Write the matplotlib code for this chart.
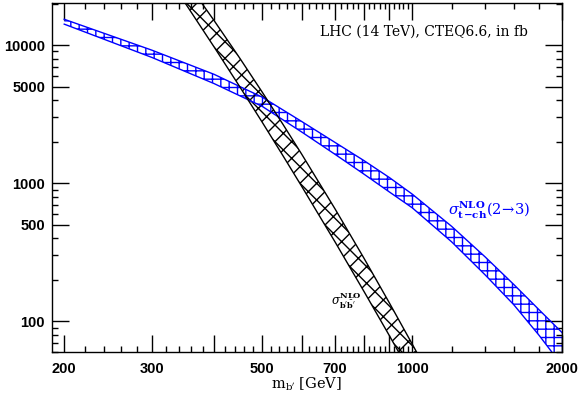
import matplotlib
matplotlib.use("Agg")
import matplotlib.pyplot as plt
from matplotlib.ticker import FixedLocator, FixedFormatter, NullFormatter

# ---- data ----
pair_mass = [300, 350, 400, 450, 500, 550, 600, 700, 800, 900, 1000, 1050]
pair_lower = [45800, 20160, 9710, 5030, 2760, 1585, 949, 376, 165, 78.8, 40.1, 29.3]
pair_upper = [63000, 29750, 15080, 8100, 4560, 2674, 1623, 652, 287, 136, 68.6, 49.7]

tch_mass = [200, 300, 400, 500, 600, 700, 800, 900, 1000, 1200, 1400, 1600, 1800, 2000]
tch_lower = [14200, 8150, 5270, 3600, 2350, 1620, 1165, 865, 665, 377, 218, 132, 79, 48]
tch_upper = [15400, 9200, 6150, 4200, 2800, 1975, 1460, 1100, 835, 488, 294, 185, 121, 83]

x_major = [200, 300, 400, 500, 600, 700, 800, 900, 1000, 2000]
x_major_labels = ["200", "300", "", "500", "", "700", "", "", "1000", "2000"]
x_minor = [m for m in range(200, 1000, 20) if m % 100 != 0] + [1200, 1400, 1600, 1800]
y_major = [100, 500, 1000, 5000, 10000]
y_major_labels = ["100", "500", "1000", "5000", "10000"]
y_minor = [60, 70, 80, 90, 200, 300, 400, 600, 700, 800, 900,
           2000, 3000, 4000, 6000, 7000, 8000, 9000, 20000]

title_text = "LHC (14 TeV), CTEQ6.6, in fb"
tch_label = r"$\sigma^{\mathbf{NLO}}_{\mathbf{t\!-\!ch}}(2\!\rightarrow\!3)$"
pair_label = r"$\sigma^{\mathbf{NLO}}_{\mathbf{b'\bar{b}'}}$"
x_label = r"m$_{\mathrm{b'}}$ [GeV]"

# ---- style ----
plt.rcParams["mathtext.fontset"] = "dejavuserif"
plt.rcParams["hatch.linewidth"] = 1.0
BLUE = "#0000ff"

fig = plt.figure(figsize=(5.81, 4.01), dpi=100)
ax = fig.add_axes([52 / 581, 1 - 352 / 401, (562 - 52) / 581, (352 - 3) / 401])
ax.set_xscale("log")
ax.set_yscale("log")
ax.set_xlim(189, 2000)
ax.set_ylim(60, 20200)

# t-channel band (blue)
ax.fill_between(tch_mass, tch_lower, tch_upper, facecolor="none",
                edgecolor=BLUE, hatch="++", linewidth=0)
ax.plot(tch_mass, tch_lower, color=BLUE, lw=1.0)
ax.plot(tch_mass, tch_upper, color=BLUE, lw=1.0)

# pair band (black)
ax.fill_between(pair_mass, pair_lower, pair_upper, facecolor="none",
                edgecolor="black", hatch="xx", linewidth=0)
ax.plot(pair_mass, pair_lower, color="black", lw=1.0)
ax.plot(pair_mass, pair_upper, color="black", lw=1.0)

# ticks
ax.xaxis.set_major_locator(FixedLocator(x_major))
ax.xaxis.set_major_formatter(FixedFormatter(x_major_labels))
ax.xaxis.set_minor_locator(FixedLocator(x_minor))
ax.xaxis.set_minor_formatter(NullFormatter())
ax.yaxis.set_major_locator(FixedLocator(y_major))
ax.yaxis.set_major_formatter(FixedFormatter(y_major_labels))
ax.yaxis.set_minor_locator(FixedLocator(y_minor))
ax.yaxis.set_minor_formatter(NullFormatter())

ax.tick_params(which="both", direction="in", top=True, right=True, width=1.0)
ax.tick_params(which="major", length=12)
ax.tick_params(which="minor", length=4.5)
ax.tick_params(axis="x", which="major", pad=7)
ax.tick_params(axis="y", which="major", pad=5)
for lab in ax.get_xticklabels() + ax.get_yticklabels():
    lab.set_fontfamily("Liberation Sans")
    lab.set_fontweight("bold")
    lab.set_fontsize(10.5)
for sp in ax.spines.values():
    sp.set_linewidth(1.0)

ax.set_xlabel(x_label, fontfamily="DejaVu Serif", fontsize=10.5, labelpad=0)

ax.text(424 / 581, 1 - 32 / 401, title_text, transform=fig.transFigure,
        fontfamily="DejaVu Serif", fontsize=10, ha="center", va="center")
ax.text(448 / 581, 1 - 210 / 401, tch_label, transform=fig.transFigure,
        color=BLUE, fontsize=10.5, ha="left", va="center")
ax.text(331 / 581, 1 - 300 / 401, pair_label, transform=fig.transFigure,
        color="black", fontsize=8.5, ha="left", va="center")

fig.savefig("out.png", dpi=100)
